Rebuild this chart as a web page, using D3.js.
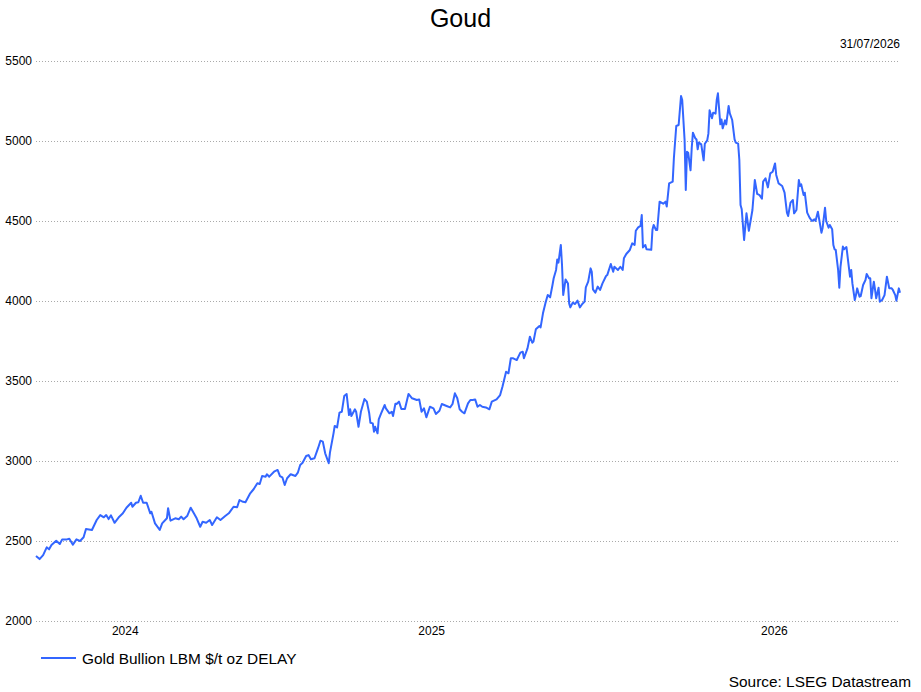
<!DOCTYPE html>
<meta charset="utf-8">
<style>
body { margin: 0; background: #fff; }
text { font-family: "Liberation Sans", Arial, sans-serif; fill: #000; }
.grid line { stroke: #aaa; stroke-dasharray: 1,2; }
</style>
<svg width="921" height="692"></svg>
<script src="https://d3js.org/d3.v7.min.js"></script>
<script>

var title = "Goud",
    asOf = "31/07/2026",
    seriesName = "Gold Bullion LBM $/t oz DELAY",
    source = "Source: LSEG Datastream";

var yTicks = [2000, 2500, 3000, 3500, 4000, 4500, 5000, 5500];
var yearLabels = ["2024", "2025", "2026"];

// daily closes
var dates = [
  "2024-08-04","2024-08-07","2024-08-10","2024-08-13","2024-08-15","2024-08-17","2024-08-21","2024-08-24","2024-08-26","2024-08-30",
  "2024-09-01","2024-09-04","2024-09-07","2024-09-10","2024-09-13","2024-09-15","2024-09-20","2024-09-24","2024-09-27","2024-09-30",
  "2024-10-02","2024-10-04","2024-10-06","2024-10-09","2024-10-13","2024-10-16","2024-10-19","2024-10-23","2024-10-24","2024-10-27",
  "2024-10-29","2024-10-31","2024-11-02","2024-11-05","2024-11-08","2024-11-09","2024-11-12","2024-11-16","2024-11-18","2024-11-22",
  "2024-11-23","2024-11-25","2024-11-29","2024-12-02","2024-12-04","2024-12-06","2024-12-09","2024-12-12","2024-12-15","2024-12-17",
  "2024-12-20","2024-12-22","2024-12-25","2024-12-28","2024-12-30","2025-01-03","2025-01-06","2025-01-10","2025-01-13","2025-01-17",
  "2025-01-20","2025-01-22","2025-01-25","2025-01-27","2025-01-31","2025-02-03","2025-02-06","2025-02-08","2025-02-10","2025-02-13",
  "2025-02-14","2025-02-16","2025-02-20","2025-02-23","2025-02-25","2025-02-27","2025-03-01","2025-03-03","2025-03-06","2025-03-10",
  "2025-03-12","2025-03-14","2025-03-16","2025-03-19","2025-03-21","2025-03-23","2025-03-26","2025-03-29","2025-03-31","2025-04-02",
  "2025-04-04","2025-04-07","2025-04-08","2025-04-11","2025-04-12","2025-04-14","2025-04-16","2025-04-18","2025-04-20","2025-04-22",
  "2025-04-24","2025-04-25","2025-04-26","2025-04-29","2025-04-30","2025-05-02","2025-05-04","2025-05-07","2025-05-09","2025-05-11",
  "2025-05-12","2025-05-14","2025-05-15","2025-05-16","2025-05-18","2025-05-19","2025-05-21","2025-05-24","2025-05-25","2025-05-28",
  "2025-05-30","2025-05-31","2025-06-02","2025-06-03","2025-06-05","2025-06-07","2025-06-10","2025-06-13","2025-06-16","2025-06-20",
  "2025-06-22","2025-06-24","2025-06-26","2025-06-28","2025-07-01","2025-07-04","2025-07-06","2025-07-09","2025-07-11","2025-07-15",
  "2025-07-18","2025-07-20","2025-07-22","2025-07-24","2025-07-26","2025-07-28","2025-07-30","2025-08-02","2025-08-04","2025-08-06",
  "2025-08-08","2025-08-10","2025-08-12","2025-08-14","2025-08-17","2025-08-20","2025-08-22","2025-08-26","2025-08-29","2025-08-31",
  "2025-09-03","2025-09-05","2025-09-07","2025-09-09","2025-09-12","2025-09-15","2025-09-17","2025-09-18","2025-09-21","2025-09-23",
  "2025-09-25","2025-09-26","2025-09-28","2025-10-01","2025-10-02","2025-10-04","2025-10-06","2025-10-08","2025-10-10","2025-10-12",
  "2025-10-13","2025-10-15","2025-10-16","2025-10-17","2025-10-19","2025-10-20","2025-10-21","2025-10-23","2025-10-25","2025-10-26",
  "2025-10-27","2025-10-29","2025-10-31","2025-11-02","2025-11-04","2025-11-06","2025-11-08","2025-11-09","2025-11-11","2025-11-13",
  "2025-11-14","2025-11-15","2025-11-17","2025-11-19","2025-11-21","2025-11-23","2025-11-26","2025-11-27","2025-11-30","2025-12-02",
  "2025-12-03","2025-12-06","2025-12-08","2025-12-10","2025-12-11","2025-12-13","2025-12-16","2025-12-18","2025-12-20","2025-12-21",
  "2025-12-23","2025-12-25","2025-12-26","2025-12-27","2025-12-29","2025-12-30","2026-01-03","2026-01-04","2026-01-05","2026-01-07",
  "2026-01-08","2026-01-10","2026-01-13","2026-01-15","2026-01-16","2026-01-18","2026-01-21","2026-01-22","2026-01-24","2026-01-26",
  "2026-01-28","2026-01-29","2026-01-31","2026-02-01","2026-02-02","2026-02-03","2026-02-05","2026-02-06","2026-02-07","2026-02-09",
  "2026-02-10","2026-02-11","2026-02-12","2026-02-14","2026-02-16","2026-02-17","2026-02-19","2026-02-20","2026-02-21","2026-02-23",
  "2026-02-24","2026-02-26","2026-02-27","2026-02-28","2026-03-02","2026-03-03","2026-03-04","2026-03-06","2026-03-07","2026-03-09",
  "2026-03-10","2026-03-12","2026-03-14","2026-03-15","2026-03-17","2026-03-18","2026-03-19","2026-03-20","2026-03-22","2026-03-24",
  "2026-03-26","2026-03-28","2026-03-29","2026-03-31","2026-04-02","2026-04-04","2026-04-06","2026-04-07","2026-04-09","2026-04-11",
  "2026-04-13","2026-04-15","2026-04-17","2026-04-18","2026-04-20","2026-04-23","2026-04-25","2026-04-27","2026-04-28","2026-04-30",
  "2026-05-02","2026-05-03","2026-05-05","2026-05-07","2026-05-08","2026-05-09","2026-05-11","2026-05-12","2026-05-14","2026-05-16",
  "2026-05-18","2026-05-20","2026-05-21","2026-05-23","2026-05-26","2026-05-27","2026-05-29","2026-05-30","2026-06-01","2026-06-02",
  "2026-06-04","2026-06-05","2026-06-06","2026-06-07","2026-06-09","2026-06-10","2026-06-11","2026-06-13","2026-06-14","2026-06-16",
  "2026-06-18","2026-06-19","2026-06-20","2026-06-21","2026-06-23","2026-06-24","2026-06-25","2026-06-27","2026-06-28","2026-06-30",
  "2026-07-02","2026-07-03","2026-07-05","2026-07-06","2026-07-07","2026-07-09","2026-07-10","2026-07-11","2026-07-13","2026-07-14",
  "2026-07-16","2026-07-18","2026-07-20","2026-07-22","2026-07-24","2026-07-25","2026-07-27","2026-07-28","2026-07-30","2026-07-31"
];

var prices = [
  2406,2387,2412,2460,2448,2475,2502,2481,2510,2510,
  2514,2477,2510,2500,2523,2575,2569,2631,2662,2648,
  2662,2637,2660,2614,2652,2673,2708,2739,2714,2739,
  2742,2783,2739,2739,2673,2683,2610,2569,2610,2642,
  2705,2627,2642,2636,2652,2636,2656,2708,2669,2642,
  2589,2620,2614,2631,2600,2648,2631,2656,2673,2714,
  2711,2756,2745,2742,2798,2825,2861,2856,2906,2902,
  2917,2902,2933,2944,2906,2898,2850,2892,2917,2906,
  2927,2975,2989,3031,3037,3011,3017,3080,3127,3121,
  3048,2986,3052,3173,3219,3210,3302,3308,3406,3419,
  3287,3323,3281,3323,3308,3214,3308,3387,3371,3298,
  3239,3235,3183,3214,3173,3260,3298,3350,3329,3298,
  3308,3281,3358,3356,3371,3325,3325,3419,3392,3381,
  3385,3308,3329,3273,3339,3329,3294,3314,3356,3344,
  3335,3356,3423,3392,3323,3308,3298,3360,3381,3381,
  3385,3339,3350,3339,3335,3323,3371,3385,3412,3465,
  3558,3548,3642,3642,3631,3677,3683,3642,3704,3777,
  3739,3746,3823,3844,3835,3923,3985,4037,4023,4100,
  4142,4194,4260,4240,4350,4225,4037,4135,4110,3985,
  3960,3990,3981,4002,3960,3981,3996,4085,4121,4204,
  4183,4073,4052,4090,4069,4110,4156,4162,4231,4183,
  4214,4194,4214,4194,4267,4294,4319,4360,4350,4439,
  4460,4469,4537,4335,4350,4323,4320,4445,4475,4444,
  4444,4621,4608,4621,4590,4735,4746,4892,5094,5100,
  5281,5256,5006,4694,4933,4927,4817,4958,5052,5017,
  5010,4948,4990,4979,4879,4983,5004,5046,5192,5142,
  5177,5171,5256,5298,5104,5135,5079,5129,5104,5219,
  5173,5131,5010,4990,4983,4881,4600,4573,4381,4548,
  4439,4525,4569,4756,4669,4662,4640,4746,4767,4710,
  4798,4808,4860,4788,4735,4719,4677,4552,4531,4615,
  4631,4548,4569,4756,4719,4729,4662,4677,4552,4521,
  4500,4510,4500,4558,4427,4458,4583,4500,4458,4475,
  4448,4350,4323,4319,4194,4083,4214,4340,4323,4337,
  4214,4152,4194,4110,4006,4037,4079,4027,4031,4100,
  4131,4169,4142,4142,4017,4121,4073,4017,4083,3996,
  4006,4037,4152,4079,4079,4069,4037,4002,4079,4052
];

var svg = d3.select("svg"),
    width = +svg.attr("width"),
    height = +svg.attr("height");

var plotLeft = 36, plotRight = 900, plotTop = 61, plotBottom = 621;

var parse = d3.timeParse("%Y-%m-%d");
var data = dates.map(function(d, i) { return { date: parse(d), value: prices[i] }; });

var x = d3.scaleTime()
    .domain(d3.extent(data, function(d) { return d.date; }))
    .range([plotLeft, plotRight]);

var y = d3.scaleLinear()
    .domain([2000, 5500])
    .range([plotBottom, plotTop]);

// title + date stamp
svg.append("text")
    .attr("x", width / 2)
    .attr("y", 27)
    .attr("text-anchor", "middle")
    .style("font-size", "25px")
    .text(title);

svg.append("text")
    .attr("x", plotRight)
    .attr("y", 48)
    .attr("text-anchor", "end")
    .style("font-size", "12px")
    .text(asOf);

// horizontal dotted grid
var grid = svg.append("g").attr("class", "grid");
grid.selectAll("line")
    .data(yTicks)
  .enter().append("line")
    .attr("x1", plotLeft)
    .attr("x2", plotRight)
    .attr("y1", function(d) { return Math.round(y(d)) + 0.5; })
    .attr("y2", function(d) { return Math.round(y(d)) + 0.5; });

svg.append("g")
    .attr("transform", "translate(" + plotLeft + ",0)")
    .call(d3.axisLeft(y).tickValues(yTicks).tickSize(0).tickPadding(4).tickFormat(d3.format("d")))
    .call(function(g) { g.select(".domain").remove(); })
    .selectAll("text")
    .style("font-size", "12px")
    .style("font-family", "'Liberation Sans', Arial, sans-serif")
    .attr("fill", "#000");

// year labels sit in the middle of each year's visible span
var yearSpans = yearLabels.map(function(yr) {
  var a = new Date(+yr, 0, 1), b = new Date(+yr + 1, 0, 1);
  var x0 = Math.max(x(a), plotLeft), x1 = Math.min(x(b), plotRight);
  return { label: yr, mid: (x0 + x1) / 2 };
});

svg.append("g").selectAll("text")
    .data(yearSpans)
  .enter().append("text")
    .attr("x", function(d) { return d.mid; })
    .attr("y", plotBottom + 14)
    .attr("text-anchor", "middle")
    .style("font-size", "12px")
    .text(function(d) { return d.label; });

// price line
var line = d3.line()
    .x(function(d) { return x(d.date); })
    .y(function(d) { return y(d.value); });

svg.append("path")
    .datum(data)
    .attr("fill", "none")
    .attr("stroke", "#3366ff")
    .attr("stroke-width", 2)
    .attr("stroke-linejoin", "round")
    .attr("d", line);

// legend
svg.append("line")
    .attr("x1", 41).attr("x2", 76)
    .attr("y1", 658).attr("y2", 658)
    .attr("stroke", "#3366ff")
    .attr("stroke-width", 2);

svg.append("text")
    .attr("x", 82)
    .attr("y", 664)
    .style("font-size", "15.4px")
    .text(seriesName);

svg.append("text")
    .attr("x", 911)
    .attr("y", 687)
    .attr("text-anchor", "end")
    .style("font-size", "15.4px")
    .text(source);

</script>
